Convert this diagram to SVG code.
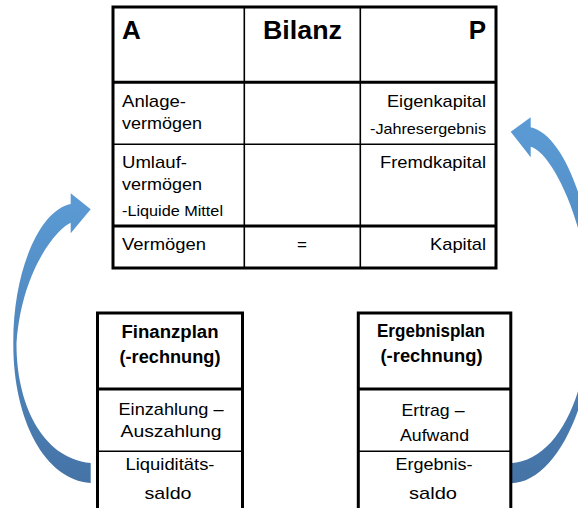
<svg xmlns="http://www.w3.org/2000/svg" width="578" height="508" viewBox="0 0 578 508">
  <style>
    .t { font-family: "Liberation Sans", Arial, sans-serif; font-size: 17px; fill: #000; }
    .s { font-size: 14.5px; }
    .h { font-size: 26px; font-weight: bold; }
    .hb { font-size: 18px; font-weight: bold; }
    .m { text-anchor: middle; }
    .e { text-anchor: end; }
    .thick { stroke: #000; stroke-width: 3; fill: none; }
    .thin { stroke: #000; stroke-width: 1.6; fill: none; }
  </style>
  <defs>
    <linearGradient id="gl" gradientUnits="userSpaceOnUse" x1="0" y1="193" x2="0" y2="483">
      <stop offset="0" stop-color="#5B9BD5"/>
      <stop offset="1" stop-color="#4573A6"/>
    </linearGradient>
    <linearGradient id="gr" gradientUnits="userSpaceOnUse" x1="0" y1="117" x2="0" y2="483">
      <stop offset="0" stop-color="#5B9BD5"/>
      <stop offset="1" stop-color="#4573A6"/>
    </linearGradient>
  </defs>
  <rect width="578" height="508" fill="#fff"/>

  <g id="connectors">
    <path id="arrow-left" fill="url(#gl)" d="M 90.7,483 C 45,480 13,420 13.3,343 C 13,270 40,210 70.7,204 L 70.7,193.3 L 90.7,209.3 L 70.7,233.3 L 70.7,222.7 C 58,228 22,268 16.5,343 C 16,400 40,458 90.7,463 Z"/>
    <path id="arrow-right" fill="url(#gr)" d="M 510.7,483.3 C 557,483 595,400 595,305 C 595,215 565,135 530.7,127.3 L 530.7,117.3 L 510.7,131.7 L 530.7,157.3 L 530.7,146.7 C 552,152 588,225 590,305 C 590,390 560,460 510.7,463.3 Z"/>
  </g>

  <g id="bilanz">
    <rect x="113" y="7" width="383" height="261" fill="#fff" class="thick"/>
    <line x1="244.3" y1="7" x2="244.3" y2="268" class="thin"/>
    <line x1="360.3" y1="7" x2="360.3" y2="268" class="thin"/>
    <line x1="113" y1="82.3" x2="496" y2="82.3" class="thick"/>
    <line x1="113" y1="144.3" x2="496" y2="144.3" class="thin"/>
    <line x1="113" y1="226" x2="496" y2="226" class="thick"/>
    <text class="t h" x="122" y="38.5">A</text>
    <text class="t h m" x="302.5" y="38.5" textLength="79" lengthAdjust="spacingAndGlyphs">Bilanz</text>
    <text class="t h e" x="486" y="38.5">P</text>
    <text class="t" x="122" y="107" textLength="64" lengthAdjust="spacingAndGlyphs">Anlage-</text>
    <text class="t" x="122" y="128.5" textLength="80" lengthAdjust="spacingAndGlyphs">vermögen</text>
    <text class="t" x="122" y="168" textLength="65" lengthAdjust="spacingAndGlyphs">Umlauf-</text>
    <text class="t" x="122" y="190" textLength="80" lengthAdjust="spacingAndGlyphs">vermögen</text>
    <text class="t s" x="122" y="216" textLength="101" lengthAdjust="spacingAndGlyphs">-Liquide Mittel</text>
    <text class="t" x="122" y="250" textLength="84" lengthAdjust="spacingAndGlyphs">Vermögen</text>
    <text class="t m" x="302" y="250">=</text>
    <text class="t e" x="486" y="107" textLength="99" lengthAdjust="spacingAndGlyphs">Eigenkapital</text>
    <text class="t s e" x="486" y="133.5" textLength="116" lengthAdjust="spacingAndGlyphs">-Jahresergebnis</text>
    <text class="t e" x="486" y="167.5" textLength="106" lengthAdjust="spacingAndGlyphs">Fremdkapital</text>
    <text class="t e" x="486" y="250" textLength="56" lengthAdjust="spacingAndGlyphs">Kapital</text>
  </g>

  <g id="finanzplan">
    <rect x="97.5" y="313" width="145" height="210" fill="#fff" class="thick"/>
    <line x1="97.5" y1="389" x2="242.5" y2="389" class="thick"/>
    <line x1="97.5" y1="451.3" x2="242.5" y2="451.3" class="thin"/>
    <text class="t hb m" x="170" y="337.5" textLength="97" lengthAdjust="spacingAndGlyphs">Finanzplan</text>
    <text class="t hb m" x="170" y="363" textLength="101" lengthAdjust="spacingAndGlyphs">(-rechnung)</text>
    <text class="t m" x="171" y="414.5" textLength="105" lengthAdjust="spacingAndGlyphs">Einzahlung –</text>
    <text class="t m" x="171" y="436.5" textLength="101" lengthAdjust="spacingAndGlyphs">Auszahlung</text>
    <text class="t m" x="170" y="470" textLength="89" lengthAdjust="spacingAndGlyphs">Liquiditäts-</text>
    <text class="t m" x="168" y="499" textLength="47" lengthAdjust="spacingAndGlyphs">saldo</text>
  </g>

  <g id="ergebnisplan">
    <rect x="358.3" y="313" width="152.5" height="210" fill="#fff" class="thick"/>
    <line x1="358.3" y1="389" x2="510.8" y2="389" class="thick"/>
    <line x1="358.3" y1="451.3" x2="510.8" y2="451.3" class="thin"/>
    <text class="t hb m" x="431" y="337" textLength="108" lengthAdjust="spacingAndGlyphs">Ergebnisplan</text>
    <text class="t hb m" x="431.5" y="362" textLength="102" lengthAdjust="spacingAndGlyphs">(-rechnung)</text>
    <text class="t m" x="433" y="415.5" textLength="63" lengthAdjust="spacingAndGlyphs">Ertrag –</text>
    <text class="t m" x="434.5" y="440.5" textLength="69" lengthAdjust="spacingAndGlyphs">Aufwand</text>
    <text class="t m" x="434" y="470" textLength="77" lengthAdjust="spacingAndGlyphs">Ergebnis-</text>
    <text class="t m" x="433" y="499" textLength="48" lengthAdjust="spacingAndGlyphs">saldo</text>
  </g>
</svg>
